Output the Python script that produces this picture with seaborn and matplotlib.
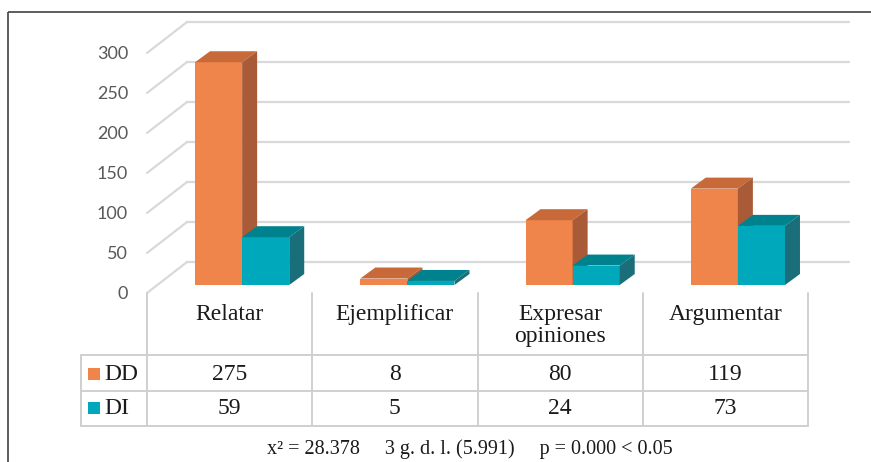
import numpy as np
import pandas as pd
import matplotlib
matplotlib.use("Agg")
import matplotlib.pyplot as plt
import seaborn as sns
from matplotlib.patches import Polygon

# ---------------- data ----------------
categories = ["Relatar", "Ejemplificar", "Expresar\nopiniones", "Argumentar"]
series = ["DD", "DI"]
dd_values = [275, 8, 80, 119]
di_values = [59, 5, 24, 73]
y_ticks = [0, 50, 100, 150, 200, 250, 300]
footnote = "x² = 28.378     3 g. d. l. (5.991)     p = 0.000 < 0.05"

front_colors = {"DD": "#F0854B", "DI": "#00A8BC"}
top_colors = {"DD": "#C8693A", "DI": "#00828E"}
side_colors = {"DD": "#A95A37", "DI": "#1A6E79"}

df = pd.DataFrame({
    "categoria": categories * 2,
    "serie": ["DD"] * len(categories) + ["DI"] * len(categories),
    "valor": dd_values + di_values,
})

sns.set_style("white")
plt.rcParams["font.family"] = ["Liberation Serif", "DejaVu Sans"]

W, H = 871, 462
fig = plt.figure(figsize=(W / 100, H / 100), dpi=100)

# background / layout axes in pixel coordinates
bg = fig.add_axes([0, 0, 1, 1], zorder=0)
bg.set_xlim(0, W)
bg.set_ylim(H, 0)
bg.axis("off")

# outer frame
bg.plot([8, 8], [12, H + 5], color="#505050", lw=1.3, solid_capstyle="butt")
bg.plot([8, W + 5], [12, 12], color="#505050", lw=1.3, solid_capstyle="butt")

# 3D wall gridlines
front_x, back_x, right_x = 147, 187, 849
front_zero, unit_px, depth_dy = 293, 0.8, 31
grid_c = "#D9D9D9"
for v in y_ticks:
    yf = front_zero - v * unit_px
    yb = yf - depth_dy
    bg.plot([front_x, back_x], [yf, yb], color=grid_c, lw=1.6)
    bg.plot([back_x, right_x], [yb, yb], color=grid_c, lw=1.6)
    bg.text(128, yf + 1, str(v), ha="right", va="center", fontsize=13,
            color="#595959", family=["Lato", "DejaVu Sans"])

# data table
col_edges = np.linspace(147, 808, len(categories) + 1)
line_c = "#CFCFCF"
row_tops = [355, 391, 426]
for xe in col_edges:
    bg.plot([xe, xe], [293, 426], color=line_c, lw=1.4)
bg.plot([81, 81], [355, 426], color=line_c, lw=1.4)
for yr in row_tops:
    bg.plot([81, 808], [yr, yr], color=line_c, lw=1.4)

centers = (col_edges[:-1] + col_edges[1:]) / 2
for cx, cat in zip(centers, categories):
    bg.text(cx, 304, cat, ha="center", va="top", fontsize=17,
            color="#1a1a1a", linespacing=1.05)

for ry, name, vals in [(374, "DD", dd_values), (408, "DI", di_values)]:
    bg.add_patch(plt.Rectangle((88, ry - 6), 12, 12, color=front_colors[name], lw=0))
    bg.text(104, ry, name, ha="left", va="center", fontsize=17, color="#1a1a1a")
    for cx, v in zip(centers, vals):
        bg.text(cx, ry, str(v), ha="center", va="center", fontsize=17, color="#1a1a1a")

bg.text(470, 449, footnote, ha="center", va="center", fontsize=14.5, color="#1a1a1a")

# ---------------- bars ----------------
ax_left, ax_right = 159.5, 820.5
ax_zero, ax_top = 285, 42
ax = fig.add_axes([ax_left / W, (H - ax_zero) / H, (ax_right - ax_left) / W,
                   (ax_zero - ax_top) / H], zorder=1)
ax.patch.set_alpha(0)
sns.barplot(data=df, x="categoria", y="valor", hue="serie", order=categories,
            hue_order=series, palette=[front_colors[s] for s in series],
            width=0.57, saturation=1, legend=False, ax=ax, errorbar=None)
ax.set_xlim(-0.5, len(categories) - 0.5)
ax.set_ylim(0, 300)
ax.axis("off")

dx = 15 * len(categories) / (ax_right - ax_left)
dy = 11 * 300 / (ax_zero - ax_top)

bars = []
for s, cont in zip(series, ax.containers):
    for p in cont.patches:
        bars.append((p.get_x(), s, p))
bars.sort(key=lambda t: t[0])
for k, (_, s, p) in enumerate(bars):
    x, w, h = p.get_x(), p.get_width(), p.get_height()
    p.set_zorder(3 * k + 1)
    p.set_linewidth(0)
    top = Polygon([(x, h), (x + w, h), (x + w + dx, h + dy), (x + dx, h + dy)],
                  closed=True, facecolor=top_colors[s], lw=0, zorder=3 * k + 2,
                  clip_on=False)
    side = Polygon([(x + w, 0), (x + w, h), (x + w + dx, h + dy), (x + w + dx, dy)],
                   closed=True, facecolor=side_colors[s], lw=0, zorder=3 * k + 3,
                   clip_on=False)
    ax.add_patch(top)
    ax.add_patch(side)

fig.savefig("out.png", dpi=100)
